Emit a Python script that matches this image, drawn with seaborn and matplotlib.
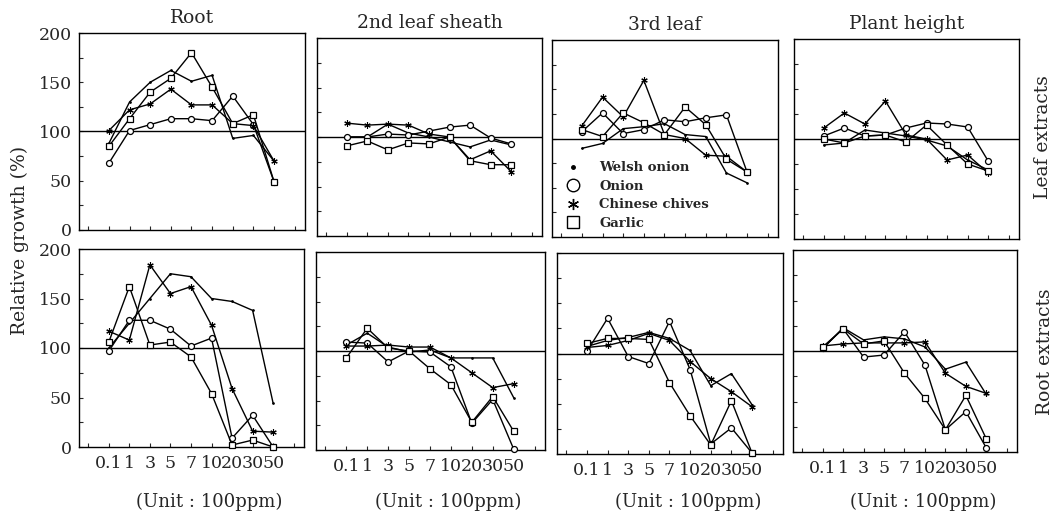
import numpy as np
import pandas as pd
import matplotlib
matplotlib.use("Agg")
import matplotlib.pyplot as plt
import seaborn as sns
from matplotlib.lines import Line2D

# ---------------- data ----------------
concentrations = ["0.1", "1", "3", "5", "7", "10", "20", "30", "50"]
series_names = ["Welsh onion", "Onion", "Chinese chives", "Garlic"]
column_titles = ["Root", "2nd leaf sheath", "3rd leaf", "Plant height"]
row_labels = ["Leaf extracts", "Root extracts"]
y_tick_values = [0, 50, 100, 150, 200]

# Leaf extracts - Root
leaf_root_welsh = [88, 130, 150, 162, 151, 157, 93, 96, 70]
leaf_root_onion = [68, 101, 107, 113, 113, 111, 136, 107, 49]
leaf_root_chives = [101, 122, 128, 143, 127, 127, 108, 106, 70]
leaf_root_garlic = [85, 113, 140, 154, 180, 145, 108, 117, 49]
# Leaf extracts - 2nd leaf sheath
leaf_sheath_welsh = [100, 100, 113, 104, 100, 95, 90, 97, 92]
leaf_sheath_onion = [100, 100, 103, 102, 106, 110, 112, 99, 93]
leaf_sheath_chives = [114, 112, 113, 112, 103, 100, 77, 86, 65]
leaf_sheath_garlic = [91, 96, 87, 94, 93, 100, 76, 72, 72]
# Leaf extracts - 3rd leaf
leaf_third_welsh = [90, 95, 110, 112, 115, 104, 102, 65, 55]
leaf_third_onion = [107, 126, 105, 109, 119, 117, 121, 124, 66]
leaf_third_chives = [113, 142, 122, 159, 104, 100, 83, 82, 66]
leaf_third_garlic = [109, 102, 126, 116, 104, 132, 114, 79, 66]
# Leaf extracts - Plant height
leaf_height_welsh = [94, 96, 109, 106, 103, 99, 93, 79, 69]
leaf_height_onion = [103, 111, 103, 104, 111, 116, 115, 112, 78]
leaf_height_chives = [111, 126, 115, 138, 104, 100, 79, 84, 66]
leaf_height_garlic = [100, 96, 103, 104, 97, 114, 94, 75, 68]

# Root extracts - Root
root_root_welsh = [100, 125, 150, 175, 172, 150, 147, 138, 44]
root_root_onion = [97, 128, 128, 119, 102, 110, 9, 32, 0]
root_root_chives = [117, 108, 184, 155, 162, 123, 59, 16, 15]
root_root_garlic = [106, 162, 103, 106, 91, 54, 2, 7, 0]
# Root extracts - 2nd leaf sheath
root_sheath_welsh = [106, 118, 104, 99, 101, 93, 93, 93, 53]
root_sheath_onion = [109, 108, 89, 100, 99, 84, 27, 51, 1]
root_sheath_chives = [105, 105, 106, 104, 104, 93, 78, 63, 67]
root_sheath_garlic = [93, 123, 103, 100, 82, 66, 28, 54, 19]
# Root extracts - 3rd leaf
root_third_welsh = [107, 113, 116, 121, 115, 103, 68, 80, 49]
root_third_onion = [102, 135, 97, 90, 132, 84, 10, 26, 1]
root_third_chives = [106, 108, 113, 120, 113, 92, 75, 62, 47]
root_third_garlic = [110, 115, 115, 114, 71, 38, 9, 53, 1]
# Root extracts - Plant height
root_height_welsh = [102, 123, 111, 114, 112, 104, 82, 89, 57]
root_height_onion = [103, 122, 94, 96, 119, 86, 22, 40, 4]
root_height_chives = [105, 107, 108, 108, 108, 109, 78, 65, 58]
root_height_garlic = [104, 122, 107, 110, 78, 53, 22, 56, 13]

panel_data = [
    [
        [leaf_root_welsh, leaf_root_onion, leaf_root_chives, leaf_root_garlic],
        [leaf_sheath_welsh, leaf_sheath_onion, leaf_sheath_chives, leaf_sheath_garlic],
        [leaf_third_welsh, leaf_third_onion, leaf_third_chives, leaf_third_garlic],
        [leaf_height_welsh, leaf_height_onion, leaf_height_chives, leaf_height_garlic],
    ],
    [
        [root_root_welsh, root_root_onion, root_root_chives, root_root_garlic],
        [root_sheath_welsh, root_sheath_onion, root_sheath_chives, root_sheath_garlic],
        [root_third_welsh, root_third_onion, root_third_chives, root_third_garlic],
        [root_height_welsh, root_height_onion, root_height_chives, root_height_garlic],
    ],
]

# ---------------- style ----------------
sns.set_style("ticks")
plt.rcParams["font.family"] = ["DejaVu Serif"]

W, H = 1060, 517
fig = plt.figure(figsize=(W / 100, H / 100), dpi=100)

# panel boxes in pixels: (x0, x1, ytop, ybottom)
boxes = [
    [(79, 305, 33, 230), (317, 542, 38, 236), (552, 778, 40, 237), (794, 1019, 39, 239)],
    [(79, 304, 249, 447), (316, 545, 252, 450), (557, 783, 253, 454), (793, 1017, 250, 452)],
]

marker_styles = {
    "Welsh onion": dict(marker="o", markersize=1.4, markerfacecolor="black", markeredgewidth=0.5),
    "Onion": dict(marker="o", markersize=4.3, markerfacecolor="white", markeredgewidth=0.9),
    "Chinese chives": dict(marker=(6, 2, 0), markersize=4.6, markeredgewidth=0.8),
    "Garlic": dict(marker="s", markersize=4.0, markerfacecolor="white", markeredgewidth=0.9),
}

positions = np.arange(1, len(concentrations) + 1)

for r in range(2):
    for c in range(4):
        x0, x1, yt, yb = boxes[r][c]
        ax = fig.add_axes([x0 / W, 1 - yb / H, (x1 - x0) / W, (yb - yt) / H])
        for name, vals in zip(series_names, panel_data[r][c]):
            df = pd.DataFrame({"pos": positions, "val": vals})
            sns.lineplot(data=df, x="pos", y="val", ax=ax, color="black", lw=1.0,
                         markeredgecolor="black", clip_on=False, zorder=3,
                         **marker_styles[name])
        ax.axhline(100, color="black", lw=1.0, zorder=2)
        ax.set_xlim(-0.45, 10.5)
        ax.set_ylim(0, 200)
        ax.set_xlabel("")
        ax.set_ylabel("")
        ax.set_xticks(np.arange(0, 11))
        if r == 1:
            ax.set_xticklabels([""] + concentrations + [""], fontsize=12.5)
        else:
            ax.set_xticklabels([""] * 11)
        ax.set_yticks(np.arange(0, 201, 25))
        if c == 0:
            ax.set_yticklabels([str(v) if v in y_tick_values else "" for v in range(0, 201, 25)],
                               fontsize=12.5)
        else:
            ax.set_yticklabels([""] * 9)
        ax.tick_params(direction="in", length=3, width=0.8, pad=5)
        ax.tick_params(axis="x", pad=6)
        for s in ax.spines.values():
            s.set_linewidth(1.0)
            s.set_color("black")
            s.set_visible(True)
        if r == 0:
            ax.set_title(column_titles[c], fontsize=13.5, pad=7)
        else:
            fig.text((x0 + x1) / 2 / W + 18 / W, 1 - 502 / H, "(Unit : 100ppm)",
                     ha="center", va="center", fontsize=13)
        if r == 0 and c == 2:
            handles = [Line2D([], [], color="black", linestyle="none", marker="o", markersize=2.5),
                       Line2D([], [], color="black", linestyle="none", marker="o", markersize=9,
                              markerfacecolor="white", markeredgewidth=1.0),
                       Line2D([], [], color="black", linestyle="none", marker=(6, 2, 0),
                              markersize=8, markeredgewidth=1.0),
                       Line2D([], [], color="black", linestyle="none", marker="s", markersize=9,
                              markerfacecolor="white", markeredgewidth=1.0)]
            ax.legend(handles, series_names, loc="lower left", frameon=False,
                      prop={"size": 9.5, "weight": "bold"}, handlelength=1.0,
                      handletextpad=1.5, labelspacing=0.42, borderaxespad=0.15,
                      bbox_to_anchor=(0.03, 0.0))

fig.text(20 / W, 1 - 240 / H, "Relative growth (%)", rotation=90, ha="center",
         va="center", fontsize=13.5)
fig.text(1043 / W, 1 - 137 / H, row_labels[0], rotation=90, ha="center",
         va="center", fontsize=13.5)
fig.text(1045 / W, 1 - 352 / H, row_labels[1], rotation=90, ha="center",
         va="center", fontsize=13.5)

fig.savefig("out.png", dpi=100)
